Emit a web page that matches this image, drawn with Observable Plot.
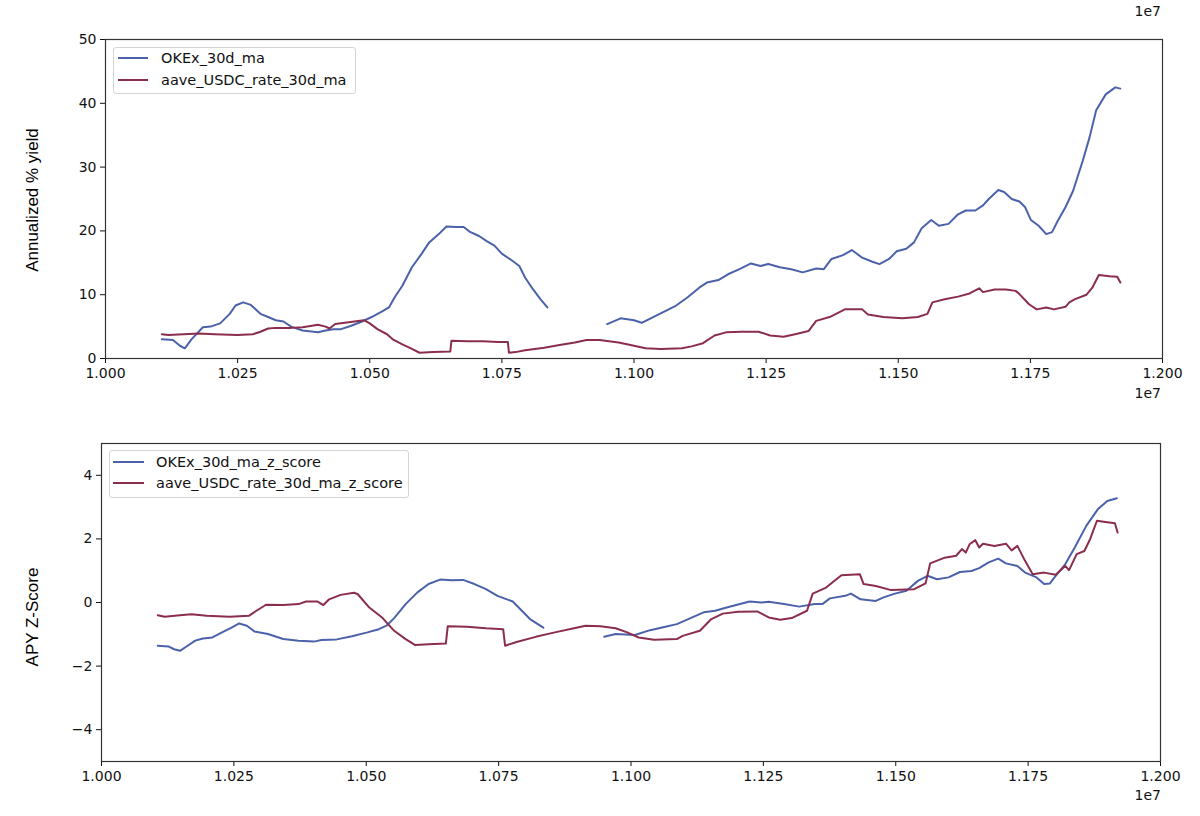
<!DOCTYPE html>
<html><head><meta charset="utf-8">
<script src="https://cdn.jsdelivr.net/npm/d3@7"></script>
<script src="https://cdn.jsdelivr.net/npm/@observablehq/plot@0.6"></script>
<style>
body{margin:0;background:#fff;width:1200px;height:816px;position:relative;overflow:hidden;font-family:"DejaVu Sans",sans-serif;color:#111;}
.abs{position:absolute;}
.ylab{position:absolute;font-family:"Liberation Sans",Arial,sans-serif;font-size:17px;color:#000;transform:translate(-50%,-50%) rotate(-90deg);white-space:nowrap;}
.legend{position:absolute;border:1px solid #d4d4d4;border-radius:3px;background:#fff;box-sizing:border-box;}
.entry{position:absolute;font-size:14.5px;white-space:nowrap;line-height:1;transform:translateY(-50%);}
.sw{position:absolute;height:2px;transform:translateY(-50%);}
.exp{position:absolute;font-size:14px;transform:translate(-100%,-50%);white-space:nowrap;}
</style></head><body>
<div id="top" class="abs" style="left:0;top:0"></div>
<div id="bot" class="abs" style="left:0;top:408px"></div>
<script>
// ---- data (x in raw units, shown as multiples of 1e7) ----
const okexSeg1 = [[10106700,3.0],[10127700,2.9],[10140800,2.0],[10150200,1.6],[10162600,3.0],[10184300,4.9],[10198800,5.0],[10217000,5.5],[10235100,7.0],[10246000,8.3],[10260500,8.8],[10275000,8.4],[10293200,7.0],[10307700,6.5],[10322200,6.0],[10336700,5.8],[10351200,5.0],[10373000,4.4],[10402000,4.1],[10416500,4.4],[10431100,4.6],[10445600,4.6],[10463700,5.1],[10485500,5.8],[10503600,6.5],[10521800,7.3],[10536300,8.0],[10547200,9.6],[10561700,11.4],[10579800,14.3],[10598000,16.4],[10612500,18.2],[10630600,19.5],[10645100,20.7],[10663300,20.6],[10677800,20.6],[10688700,19.9],[10706800,19.2],[10721300,18.4],[10735900,17.7],[10750400,16.4],[10768500,15.4],[10783000,14.5],[10793900,12.7],[10808400,10.9],[10822900,9.3],[10836000,8.0]];
const okexSeg2 = [[10949200,5.4],[10974600,6.3],[11000000,6.0],[11014500,5.6],[11036300,6.5],[11058100,7.4],[11079800,8.3],[11101600,9.6],[11123400,11.1],[11137900,11.9],[11159700,12.3],[11177800,13.2],[11199600,14.0],[11221300,14.9],[11239500,14.5],[11254000,14.8],[11275800,14.3],[11297500,14.0],[11319300,13.5],[11344700,14.1],[11359200,14.0],[11373700,15.6],[11395500,16.2],[11412200,17.0],[11431800,15.8],[11449900,15.2],[11464400,14.8],[11482600,15.6],[11497100,16.8],[11515200,17.2],[11529800,18.2],[11544300,20.4],[11562400,21.7],[11576900,20.8],[11595100,21.1],[11613200,22.6],[11627700,23.2],[11645900,23.2],[11660400,24.0],[11671300,25.0],[11689400,26.4],[11700300,26.1],[11714800,25.0],[11729300,24.6],[11740200,23.7],[11751100,21.7],[11765600,20.8],[11780100,19.5],[11791000,19.8],[11801900,21.6],[11816400,23.7],[11830900,26.3],[11849100,31.0],[11862100,34.7],[11874500,38.9],[11892600,41.4],[11910700,42.5],[11920200,42.3]];
const aaveRate = [[10106700,3.8],[10119000,3.7],[10148000,3.8],[10177100,3.9],[10206100,3.8],[10249600,3.7],[10278700,3.8],[10293200,4.2],[10307700,4.7],[10322200,4.8],[10351200,4.8],[10373000,4.9],[10387500,5.1],[10402000,5.3],[10416500,5.0],[10423800,4.7],[10434700,5.4],[10452800,5.6],[10471000,5.8],[10489100,6.0],[10500000,5.5],[10514500,4.6],[10532700,3.8],[10543500,3.0],[10561700,2.2],[10579800,1.5],[10594300,0.9],[10619700,1.0],[10652400,1.1],[10654600,2.8],[10685100,2.7],[10714100,2.7],[10743100,2.6],[10761300,2.6],[10763400,0.9],[10775800,1.0],[10793900,1.3],[10830200,1.7],[10859200,2.1],[10888200,2.5],[10910000,2.9],[10934700,2.9],[10970900,2.5],[11000000,2.0],[11021800,1.6],[11050800,1.5],[11090700,1.6],[11108900,1.9],[11130600,2.4],[11152400,3.6],[11174200,4.1],[11203200,4.2],[11235900,4.2],[11257600,3.6],[11283000,3.4],[11304800,3.8],[11330200,4.3],[11344700,5.9],[11370100,6.5],[11399100,7.7],[11431800,7.7],[11442700,6.9],[11471700,6.5],[11508000,6.3],[11537000,6.5],[11555200,7.0],[11564600,8.8],[11587800,9.3],[11613200,9.7],[11635000,10.2],[11653100,11.0],[11660400,10.4],[11682200,10.8],[11703900,10.8],[11722100,10.6],[11729300,10.1],[11747500,8.5],[11762000,7.7],[11780100,8.0],[11794600,7.7],[11816400,8.1],[11823600,8.8],[11834500,9.3],[11856300,10.0],[11867200,11.1],[11879500,13.1],[11899900,12.9],[11914400,12.8],[11920200,11.9]];
const okexZSeg1 = [[10106200,-1.36],[10126400,-1.38],[10137300,-1.47],[10148100,-1.52],[10162600,-1.36],[10177000,-1.20],[10191500,-1.13],[10209500,-1.10],[10227600,-0.94],[10245700,-0.79],[10260100,-0.66],[10274600,-0.73],[10289000,-0.91],[10314300,-0.99],[10343200,-1.15],[10372100,-1.20],[10401000,-1.23],[10415400,-1.18],[10444300,-1.16],[10473200,-1.06],[10502100,-0.94],[10523800,-0.84],[10538300,-0.73],[10552700,-0.49],[10574400,-0.05],[10596100,0.31],[10617700,0.58],[10639400,0.72],[10661100,0.70],[10682800,0.71],[10704400,0.58],[10726100,0.42],[10747800,0.21],[10776700,0.03],[10791100,-0.21],[10809200,-0.52],[10834500,-0.79]];
const okexZSeg2 = [[10949400,-1.08],[10971100,-0.99],[11007200,-1.02],[11036100,-0.87],[11065000,-0.76],[11086700,-0.68],[11115600,-0.47],[11137300,-0.31],[11159000,-0.26],[11180600,-0.16],[11224000,0.03],[11245700,0.00],[11260100,0.02],[11289000,-0.05],[11317900,-0.13],[11346800,-0.05],[11361300,-0.05],[11375700,0.13],[11404600,0.21],[11415400,0.28],[11433500,0.10],[11462400,0.05],[11476900,0.16],[11498500,0.28],[11520200,0.37],[11541900,0.68],[11559900,0.84],[11578000,0.73],[11599700,0.79],[11621400,0.96],[11643000,0.99],[11657500,1.08],[11675500,1.26],[11693600,1.38],[11708100,1.23],[11729700,1.15],[11744200,0.94],[11765900,0.79],[11780300,0.58],[11791200,0.60],[11802000,0.84],[11820000,1.20],[11838100,1.73],[11859800,2.41],[11881500,2.93],[11899500,3.19],[11917600,3.28]];
const aaveZ = [[10106200,-0.40],[10119200,-0.45],[10148100,-0.40],[10169800,-0.37],[10198700,-0.42],[10242000,-0.45],[10278200,-0.42],[10292600,-0.26],[10310700,-0.07],[10343200,-0.08],[10372100,-0.05],[10386500,0.03],[10408200,0.03],[10419100,-0.08],[10429900,0.10],[10451600,0.24],[10476900,0.31],[10484100,0.26],[10505800,-0.16],[10531000,-0.49],[10552700,-0.89],[10574400,-1.15],[10592500,-1.34],[10617700,-1.31],[10650300,-1.29],[10653900,-0.75],[10690000,-0.76],[10726100,-0.81],[10758600,-0.84],[10762200,-1.36],[10783900,-1.24],[10820000,-1.08],[10856200,-0.94],[10892300,-0.81],[10914000,-0.73],[10942200,-0.75],[10971100,-0.81],[10992800,-0.94],[11014500,-1.10],[11043400,-1.17],[11086700,-1.15],[11097500,-1.05],[11130100,-0.89],[11151700,-0.52],[11173400,-0.35],[11202300,-0.29],[11238400,-0.28],[11260100,-0.47],[11281800,-0.54],[11303500,-0.49],[11332400,-0.26],[11343200,0.28],[11368500,0.47],[11397400,0.86],[11432100,0.89],[11439300,0.58],[11462400,0.52],[11491300,0.39],[11534700,0.42],[11556300,0.60],[11565000,1.23],[11592500,1.41],[11614100,1.47],[11625000,1.68],[11632200,1.57],[11639400,1.83],[11650300,1.96],[11657500,1.73],[11664700,1.85],[11686400,1.78],[11708100,1.85],[11718900,1.64],[11729700,1.78],[11744200,1.31],[11758600,0.89],[11780300,0.94],[11802000,0.87],[11820000,1.15],[11827300,1.02],[11841700,1.52],[11856200,1.62],[11867000,1.99],[11880000,2.57],[11895900,2.53],[11913900,2.49],[11919000,2.20]];

const xTicks = [10000000,10250000,10500000,10750000,11000000,11250000,11500000,11750000,12000000];
const yTicksTop = [0,10,20,30,40,50];
const yTicksBottom = [-4,-2,0,2,4];
const legendTop = ["OKEx_30d_ma","aave_USDC_rate_30d_ma"];
const legendBottom = ["OKEx_30d_ma_z_score","aave_USDC_rate_30d_ma_z_score"];
const yLabelTop = "Annualized % yield";
const yLabelBottom = "APY Z-Score";

const BLUE = "#4b62aa", RED = "#8b2d4c";
const fmtX = d => (d / 1e7).toFixed(3);
const fmtY = d => d3.format("d")(d);

function panel({ml, mr, mt, mb, yDomain, yTicks, series}) {
  return Plot.plot({
    width: 1200, height: 408,
    marginLeft: ml, marginRight: mr, marginTop: mt, marginBottom: mb,
    style: {fontFamily: '"DejaVu Sans", sans-serif', fontSize: "14px", color: "#111", background: "transparent", overflow: "visible"},
    x: {domain: [1e7, 1.2e7]},
    y: {domain: yDomain},
    marks: [
      Plot.axisX({ticks: xTicks, tickFormat: fmtX, tickSize: 5, tickPadding: 4.5, fontSize: 14, label: null}),
      Plot.axisY({ticks: yTicks, tickFormat: fmtY, tickSize: 5, tickPadding: 4, fontSize: 14, label: null}),
      ...series.map(s => Plot.line(s.data, {x: d => d[0], y: d => d[1], stroke: s.color, strokeWidth: 2, strokeLinejoin: "round"})),
      Plot.frame({stroke: "#333", strokeWidth: 1.2})
    ]
  });
}

document.getElementById("top").append(panel({
  ml: 105, mr: 38, mt: 39, mb: 50, yDomain: [0, 50], yTicks: yTicksTop,
  series: [{data: okexSeg1, color: BLUE}, {data: okexSeg2, color: BLUE}, {data: aaveRate, color: RED}]
}));
document.getElementById("bot").append(panel({
  ml: 101, mr: 40, mt: 35, mb: 55, yDomain: [-5, 5], yTicks: yTicksBottom,
  series: [{data: okexZSeg1, color: BLUE}, {data: okexZSeg2, color: BLUE}, {data: aaveZ, color: RED}]
}));

function addEl(cls, style, text) {
  const el = document.createElement("div");
  el.className = cls;
  Object.assign(el.style, style);
  if (text != null) el.textContent = text;
  document.body.append(el);
  return el;
}
function legend(box, names, colors, ys, swX, swW, textX) {
  addEl("legend", {left: box[0] + "px", top: box[1] + "px", width: box[2] + "px", height: box[3] + "px"});
  names.forEach((n, i) => {
    addEl("sw", {left: swX + "px", top: ys[i] + "px", width: swW + "px", background: colors[i]});
    addEl("entry", {left: textX + "px", top: ys[i] + "px"}, n);
  });
}
legend([113, 47, 243, 47], legendTop, [BLUE, RED], [58, 80], 118, 30, 161);
legend([109, 450, 300, 48], legendBottom, [BLUE, RED], [462, 483], 113, 31, 156);

addEl("ylab", {left: "33px", top: "200px"}, yLabelTop);
addEl("ylab", {left: "33px", top: "617px"}, yLabelBottom);
addEl("exp", {left: "1161px", top: "11px"}, "1e7");
addEl("exp", {left: "1161px", top: "393px"}, "1e7");
addEl("exp", {left: "1161px", top: "795px"}, "1e7");
</script>
</body></html>
